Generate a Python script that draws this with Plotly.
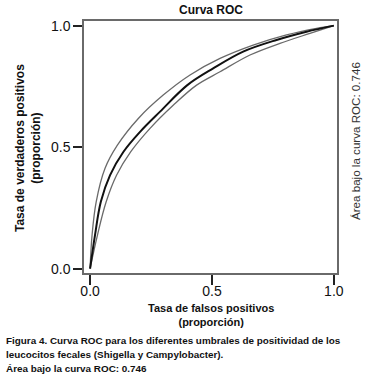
import plotly.graph_objects as go

# Central ROC curve (false positive rate, true positive rate)
roc_fpr = [0.0, 0.020, 0.044, 0.082, 0.137, 0.205, 0.287, 0.399, 0.505, 0.628, 0.765, 0.888, 1.0]
roc_tpr = [0.0, 0.137, 0.275, 0.385, 0.481, 0.563, 0.646, 0.755, 0.824, 0.893, 0.941, 0.975, 1.0]

# Upper confidence band
up_fpr = [0.0, 0.008, 0.025, 0.061, 0.112, 0.198, 0.300, 0.410, 0.533, 0.669, 0.806, 0.929, 1.0]
up_tpr = [0.0, 0.137, 0.275, 0.412, 0.508, 0.618, 0.714, 0.797, 0.865, 0.920, 0.962, 0.989, 1.0]

# Lower confidence band
lo_fpr = [0.0, 0.030, 0.066, 0.109, 0.167, 0.246, 0.342, 0.437, 0.533, 0.656, 0.779, 0.902, 1.0]
lo_tpr = [0.0, 0.137, 0.275, 0.385, 0.481, 0.577, 0.673, 0.755, 0.810, 0.879, 0.927, 0.968, 1.0]

tick_vals = [0.0, 0.5, 1.0]
tick_text = ["0.0", "0.5", "1.0"]

title = "Curva ROC"
x_title = "Tasa de falsos positivos<br>(proporción)"
y_title = "Tasa de verdaderos positivos<br>(proporción)"
side_text = "Área bajo la curva ROC: 0.746"
caption_lines = [
    "Figura 4. Curva ROC para los diferentes umbrales de positividad de los",
    "leucocitos fecales (Shigella y Campylobacter).",
    "Área bajo la curva ROC: 0.746",
]

BOLD = "Liberation Sans, Arial, sans-serif"
W, H = 379, 378
ML, MR, MT, MB = 84, 42, 21, 105
PW, PH = W - ML - MR, H - MT - MB


def px_x(px):
    return (px - ML) / PW


def px_y(py):
    return (H - MB - py) / PH


fig = go.Figure()
for xs, ys in [(up_fpr, up_tpr), (lo_fpr, lo_tpr)]:
    fig.add_trace(go.Scatter(x=xs, y=ys, mode="lines", line=dict(color="#6a6a6a", width=1.3, shape="spline"),
                             hoverinfo="skip", showlegend=False))
fig.add_trace(go.Scatter(x=roc_fpr, y=roc_tpr, mode="lines", line=dict(color="#111111", width=2, shape="spline"),
                         showlegend=False))

axis_common = dict(showgrid=False, zeroline=False, showline=True, mirror=True, linecolor="#6a6a6a", linewidth=1.5,
                   ticks="outside", tickcolor="#222222", tickwidth=1.5,
                   tickvals=tick_vals, ticktext=tick_text,
                   tickfont=dict(family="Liberation Sans, Arial, sans-serif", size=14, color="#111111"))

annotations = [
    dict(text="<b>" + title + "</b>", x=0.5, y=px_y(10), font=dict(family=BOLD, size=12, color="#111111"),
         xanchor="center", yanchor="middle"),
    dict(text="<b>" + x_title + "</b>", x=0.5, y=px_y(314.5), font=dict(family=BOLD, size=11, color="#111111"),
         xanchor="center", yanchor="middle"),
    dict(text="<b>" + y_title + "</b>", x=px_x(28), y=px_y(148), textangle=-90,
         font=dict(family=BOLD, size=12, color="#111111"), xanchor="center", yanchor="middle"),
    dict(text=side_text, x=px_x(355), y=px_y(141), textangle=-90,
         font=dict(family="Liberation Sans, Arial, sans-serif", size=11.6, color="#333333"),
         xanchor="center", yanchor="middle"),
]
for i, line in enumerate(caption_lines):
    annotations.append(dict(text="<b>" + line + "</b>", x=px_x(4), y=px_y(340 + 14 * i), align="left",
                            font=dict(family=BOLD, size=9.9, color="#111111"), xanchor="left", yanchor="middle"))
for a in annotations:
    a.update(xref="paper", yref="paper", showarrow=False)

fig.update_layout(
    width=W, height=H,
    margin=dict(l=ML, r=MR, t=MT, b=MB),
    paper_bgcolor="white", plot_bgcolor="white",
    xaxis=dict(range=[-0.025, 1.013], ticklen=10, ticklabelstandoff=-6, **axis_common),
    yaxis=dict(range=[-0.018, 1.019], ticklen=9, **axis_common),
    annotations=annotations,
)

fig.write_html("out.html", config={"displayModeBar": False},
               post_script="document.body.style.margin='0';")
